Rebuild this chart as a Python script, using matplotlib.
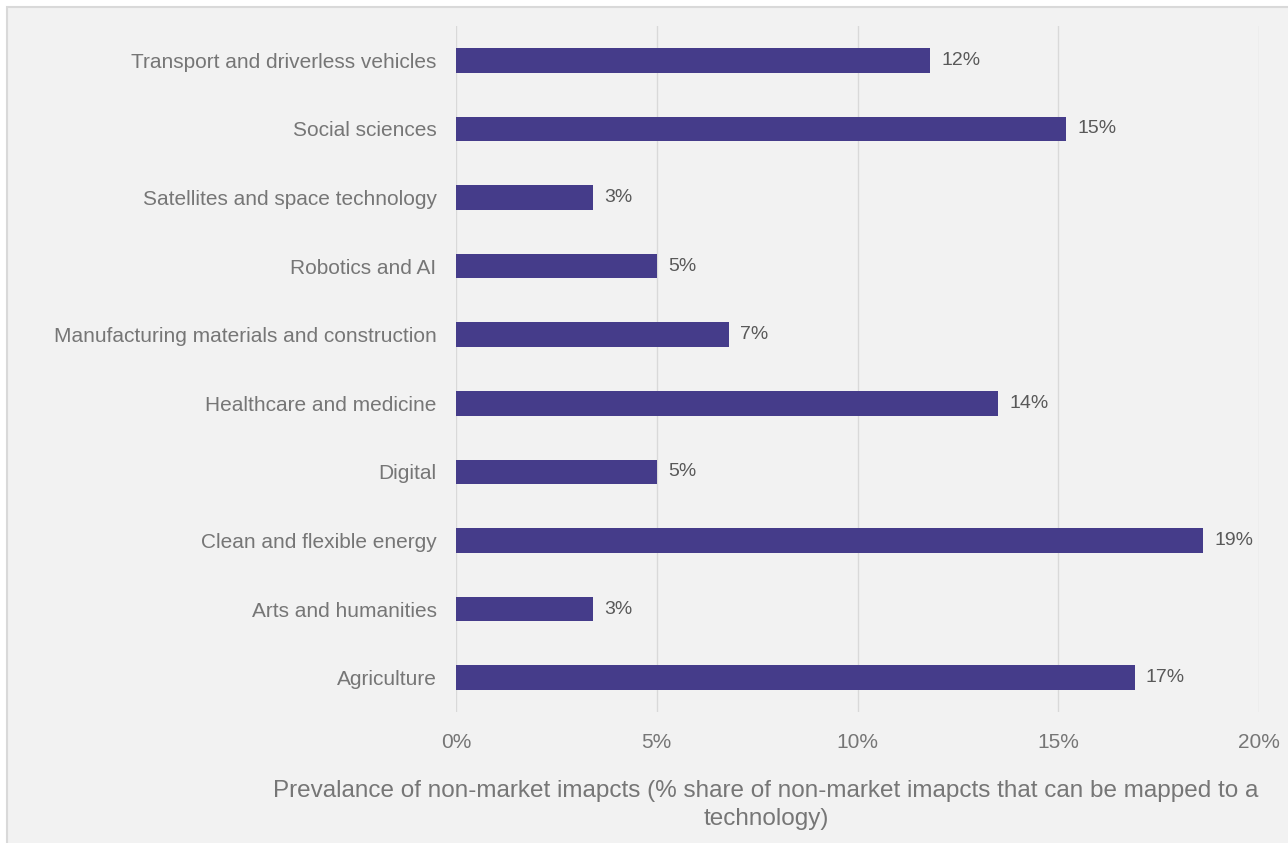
import matplotlib.pyplot as plt
from matplotlib.patches import Rectangle
from matplotlib.ticker import FuncFormatter

plt.rcParams['font.family'] = ['Liberation Sans', 'DejaVu Sans']

categories = ['Agriculture', 'Arts and humanities', 'Clean and flexible energy', 'Digital',
              'Healthcare and medicine', 'Manufacturing materials and construction',
              'Robotics and AI', 'Satellites and space technology', 'Social sciences',
              'Transport and driverless vehicles']
values = [16.9, 3.4, 18.6, 5.0, 13.5, 6.8, 5.0, 3.4, 15.2, 11.8]
labels = ['17%', '3%', '19%', '5%', '14%', '7%', '5%', '3%', '15%', '12%']
xticks = [0, 5, 10, 15, 20]

W, H = 1288, 843
fig = plt.figure(figsize=(W / 100, H / 100), dpi=100, facecolor='white')

# grey panel with a thin border on the top and left
fig.patches.append(Rectangle((7 / W, -0.01), 1.05, 1 - 7 / H + 0.01, transform=fig.transFigure,
                             facecolor='#f2f2f2', edgecolor='#d9d9d9', linewidth=1.5, zorder=-5))

ax = fig.add_axes([456 / W, 1 - 712 / H, (1259 - 456) / W, (712 - 26) / H])
ax.set_facecolor('none')

y = range(len(categories))
ax.barh(y, values, height=0.36, color='#453c8a', zorder=3)
for yi, v, lab in zip(y, values, labels):
    ax.text(v + 0.28, yi, lab, va='center', ha='left', fontsize=14, color='#595959')

ax.set_xlim(0, 20)
ax.set_ylim(-0.5, len(categories) - 0.5)
ax.set_xticks(xticks)
ax.xaxis.set_major_formatter(FuncFormatter(lambda v, p: '{:.0f}%'.format(v)))
ax.set_yticks(list(y))
ax.set_yticklabels(categories)
ax.tick_params(axis='y', length=0, pad=14, labelsize=15, labelcolor='#767676')
ax.tick_params(axis='x', length=0, pad=15, labelsize=15, labelcolor='#767676')
ax.grid(axis='x', color='#d9d9d9', linewidth=1, zorder=0)
for s in ax.spines.values():
    s.set_visible(False)

fig.text(766 / W, 1 - 805 / H,
         'Prevalance of non-market imapcts (% share of non-market imapcts that can be mapped to a\ntechnology)',
         ha='center', va='center', fontsize=17.5, color='#767676', linespacing=1.4)

fig.savefig('out.png', dpi=100, facecolor=fig.get_facecolor())
